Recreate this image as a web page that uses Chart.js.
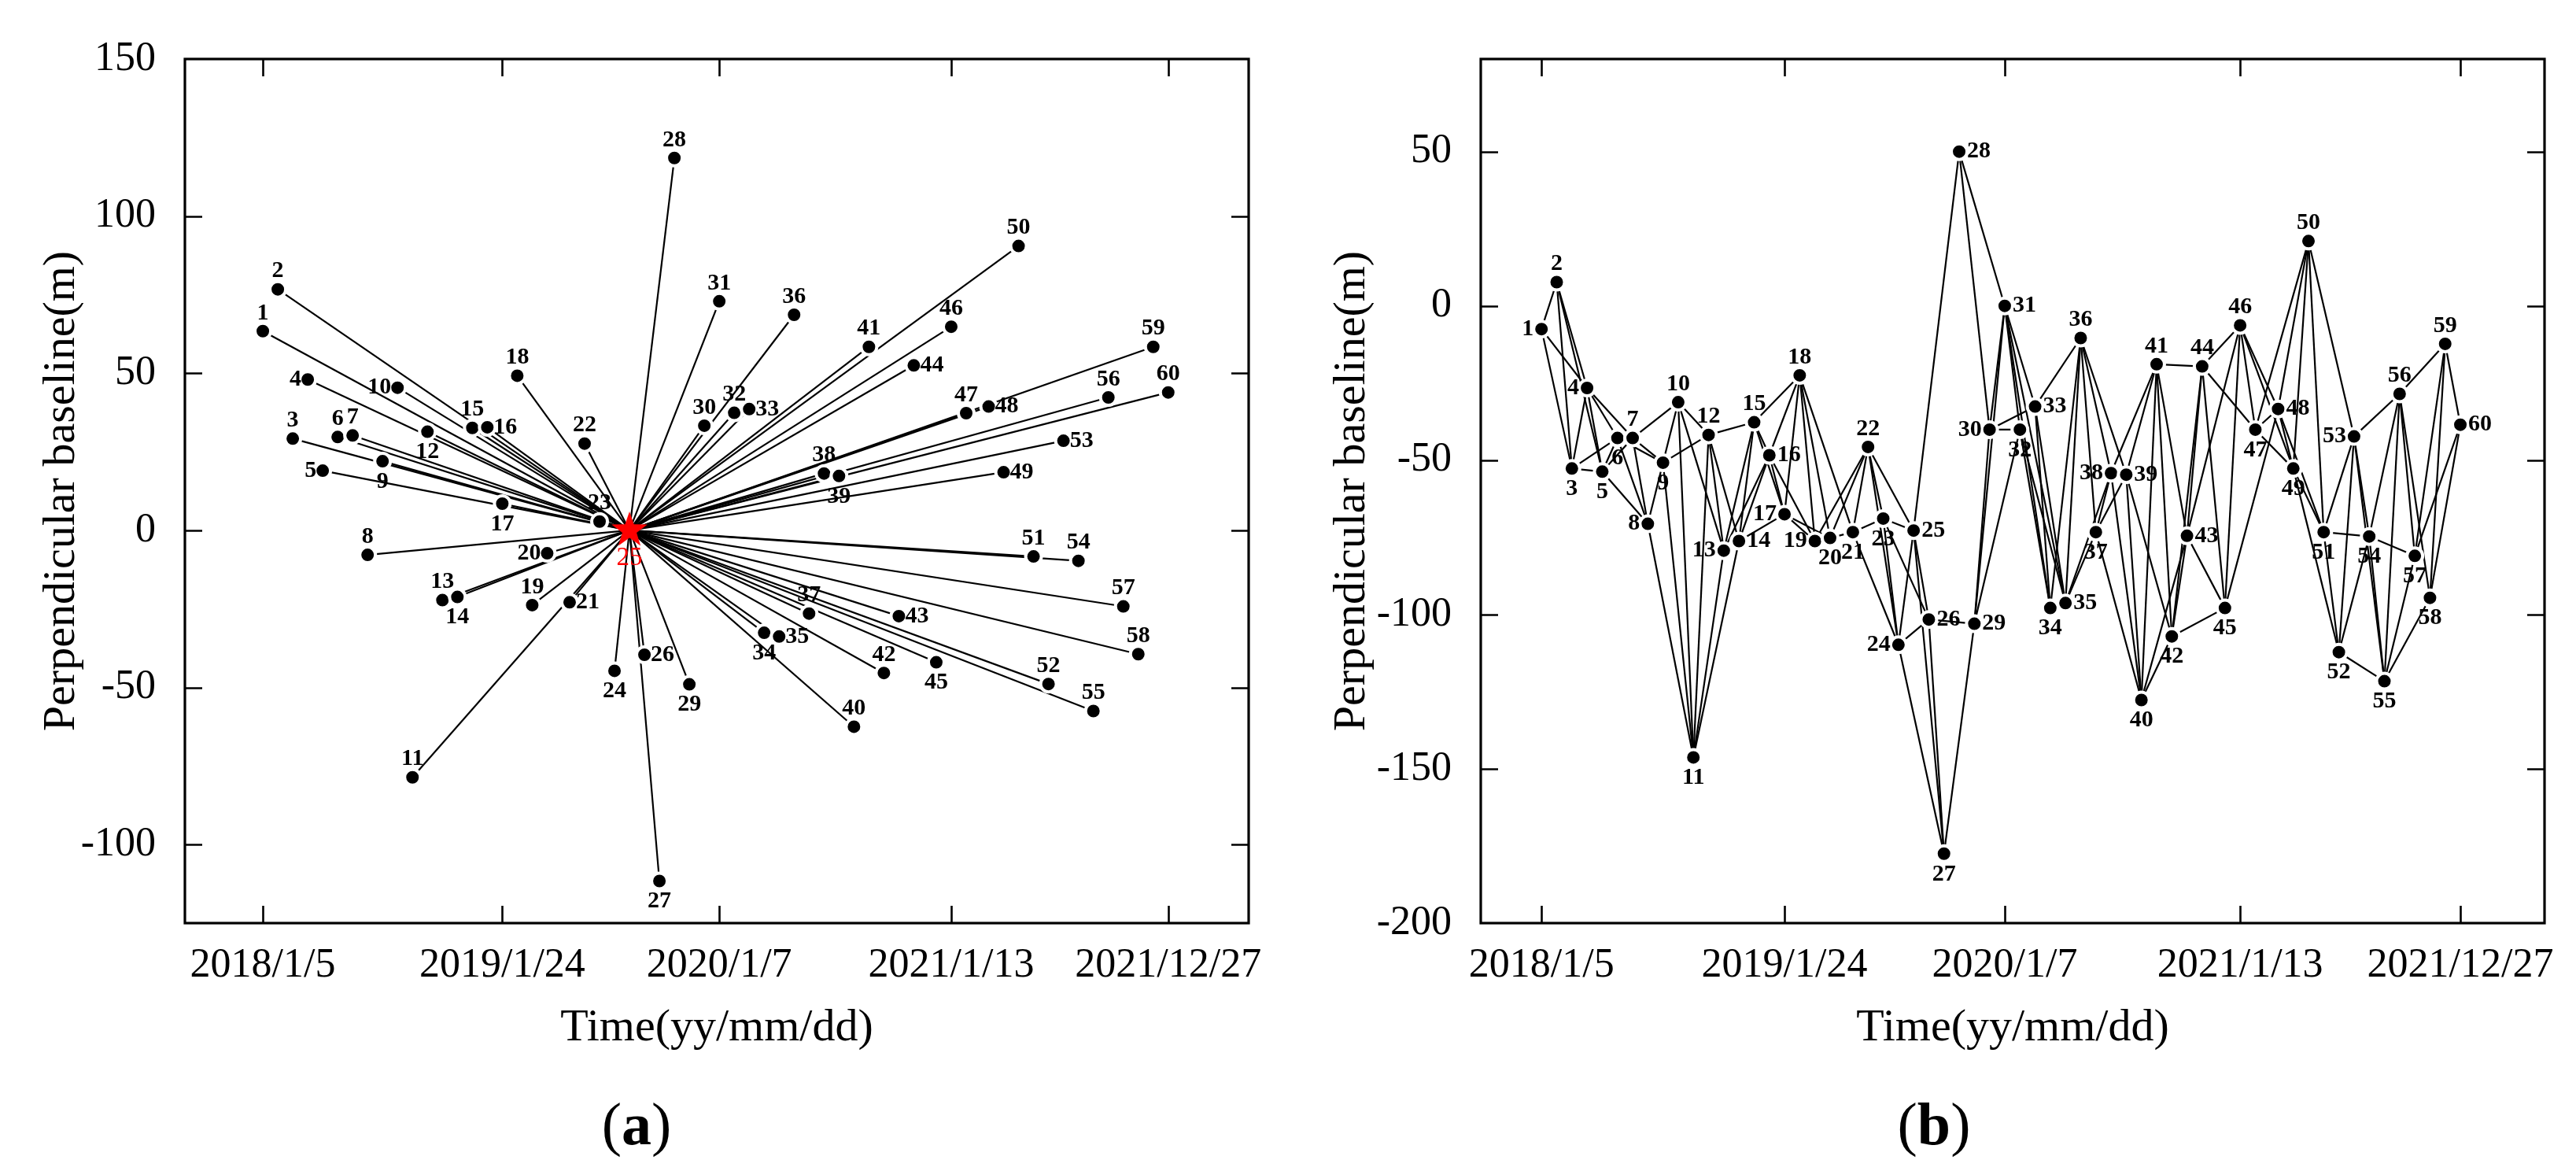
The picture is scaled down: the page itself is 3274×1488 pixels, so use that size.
<!DOCTYPE html>
<html>
<head>
<meta charset="utf-8">
<script src="https://cdn.jsdelivr.net/npm/chart.js@4.4.0/dist/chart.umd.min.js"></script>
<style>
html,body{margin:0;padding:0;background:#fff;}
body{width:3274px;height:1488px;position:relative;overflow:hidden;font-family:"Liberation Serif","Times New Roman",serif;}
#ca{position:absolute;left:0;top:0;}
#cb{position:absolute;left:1640px;top:0;}
.cap{position:absolute;top:1380px;font-size:76px;line-height:96px;transform:translateX(-50%);color:#000;white-space:nowrap;}
</style>
</head>
<body>
<canvas id="ca" width="1640" height="1488" style="width:1640px;height:1488px"></canvas>
<canvas id="cb" width="1634" height="1488" style="width:1634px;height:1488px"></canvas>
<div class="cap" style="left:809px">(<b>a</b>)</div>
<div class="cap" style="left:2458px">(<b>b</b>)</div>
<script>
// ---------------- DATA ----------------
const acquisitionDates = [
 '2018-01-05','2018-01-29','2018-02-22','2018-03-18','2018-04-11','2018-05-05','2018-05-29','2018-06-22','2018-07-16','2018-08-09',
 '2018-09-02','2018-09-26','2018-10-20','2018-11-13','2018-12-07','2018-12-31','2019-01-24','2019-02-17','2019-03-13','2019-04-06',
 '2019-05-12','2019-06-05','2019-06-29','2019-07-23','2019-08-16','2019-09-09','2019-10-03','2019-10-27','2019-11-20','2019-12-14',
 '2020-01-07','2020-01-31','2020-02-24','2020-03-19','2020-04-12','2020-05-06','2020-05-30','2020-06-23','2020-07-17','2020-08-10',
 '2020-09-03','2020-09-27','2020-10-21','2020-11-14','2020-12-20','2021-01-13','2021-02-06','2021-03-14','2021-04-07','2021-05-01',
 '2021-05-25','2021-06-18','2021-07-12','2021-08-05','2021-08-29','2021-09-22','2021-10-16','2021-11-09','2021-12-03','2021-12-27'
];
// (a) perpendicular baseline relative to master image 25 (m)
const baselineA = [
 63.4, 76.7, 29.2, 48.0, 19.0, 29.7, 30.2, -7.8, 22.0, 45.4,
 -78.6, 31.4, -22.2, -21.2, 32.6, 32.8, 8.5, 49.2, -23.8, -7.3,
 -22.9, 27.6, 2.8, -44.7, 0, -39.6, -111.6, 118.5, -49.0, 33.3,
 72.9, 37.4, 38.6, -32.6, -33.8, 68.6, -26.5, 18.1, 17.3, -62.5,
 58.4, -45.4, -27.3, 52.5, -42.0, 64.8, 37.3, 39.4, 18.5, 90.5,
 -8.3, -48.9, 28.5, -9.7, -57.5, 42.3, -24.2, -39.4, 58.4, 43.9
];
// (b) perpendicular baseline of the small-baseline network (m)
const baselineB = [
 -7.5, 7.7, -52.7, -26.6, -53.7, -42.8, -42.8, -70.6, -50.8, -31.2,
 -146.3, -41.8, -79.3, -76.2, -37.7, -48.4, -67.5, -22.5, -76.2, -75.2,
 -73.3, -45.7, -68.9, -109.8, -72.8, -101.6, -177.5, 50.0, -103.0, -40.1,
 0.0, -40.1, -32.6, -97.9, -96.3, -10.4, -73.3, -54.2, -54.7, -127.7,
 -18.9, -107.1, -74.5, -19.6, -97.9, -6.3, -40.1, -33.4, -52.7, 21.0,
 -73.3, -112.2, -42.3, -74.7, -121.6, -28.5, -81.0, -94.6, -12.3, -38.5
];
const masterImage = 25;
// interferometric pairs (image numbers) of panel (b)
const networkPairs = [
 [1,2],[1,3],[1,4],[2,3],[2,4],[2,5],[3,4],[3,5],[3,6],[4,5],[4,6],[4,7],
 [5,6],[5,7],[5,8],[6,7],[6,8],[6,9],[7,8],[7,9],[7,10],[8,9],[8,11],
 [9,10],[9,11],[9,12],[10,11],[10,12],[10,13],[11,12],[11,13],[11,14],
 [12,13],[12,14],[12,15],[13,15],[13,16],[14,15],[14,16],[14,17],
 [15,16],[15,17],[15,18],[16,17],[16,18],[16,19],[17,18],[17,19],[17,20],
 [18,19],[18,20],[18,21],[19,20],[19,22],[20,21],[20,22],
 [21,22],[21,23],[21,24],[22,23],[22,24],[22,25],[23,24],[23,25],[23,26],
 [24,25],[24,26],[24,27],[25,26],[25,27],[25,28],[26,27],[26,29],[27,29],
 [28,30],[28,31],[29,30],[29,31],[29,32],[30,31],[30,32],[30,33],
 [31,32],[31,33],[31,34],[31,35],[32,34],[32,35],[33,34],[33,35],[33,36],
 [34,36],[35,36],[35,37],[35,38],[36,37],[36,38],[36,39],
 [37,38],[37,39],[37,40],[38,39],[38,40],[38,41],[39,40],[39,41],[39,42],
 [40,41],[40,42],[40,43],[41,42],[41,43],[41,44],[42,43],[42,44],[42,45],
 [43,44],[43,45],[43,46],[44,45],[44,46],[44,47],[45,46],[45,48],
 [46,47],[46,48],[46,49],[47,48],[47,49],[47,50],[48,49],[48,50],[48,51],
 [49,50],[49,51],[49,52],[50,51],[50,53],[51,52],[51,53],[51,54],
 [52,53],[52,54],[52,55],[53,54],[53,55],[53,56],[54,55],[54,56],[54,57],
 [55,56],[55,57],[55,58],[56,57],[56,58],[56,59],[57,59],[57,60],
 [58,59],[58,60],[59,60]
];
const timeTickDates = ['2018-01-05','2019-01-24','2020-01-07','2021-01-13','2021-12-27'];
const timeTickLabels = ['2018/1/5','2019/1/24','2020/1/7','2021/1/13','2021/12/27'];
const yTicksA = [-100,-50,0,50,100,150];
const yTicksB = [-200,-150,-100,-50,0,50];

// ---------------- STYLE (label placement: t/b/l/r) ----------------
const labelSideA = ('t t t l l t t t b l ' + 't b t b t r b t t l ' + 'r t t b b r b t b t ' +
  't t r b r t t t b t ' + 't t r r b t t r r t ' + 't t r t t t t t t t').trim().split(/\s+/);
const labelSideB = ('l t b l b b t l b t ' + 'b t l r t r l t l b ' + 'b t b l r r b r r l ' +
  'r b r b r t b l r b ' + 't b r t b t b r b t ' + 'b b l b b t b b t r').trim().split(/\s+/);

const SERIF = '"Liberation Serif","Times New Roman",serif';
const day0 = Date.parse(acquisitionDates[0] + 'T00:00:00Z');
const toDay = s => Math.round((Date.parse(s + 'T00:00:00Z') - day0) / 86400000);
const days = acquisitionDates.map(toDay);
const tickDays = timeTickDates.map(toDay);
const mIdx = masterImage - 1;

// red star marker
function makeStar(R, r) {
  const c = document.createElement('canvas');
  const s = Math.ceil(R * 2 + 4);
  c.width = s; c.height = s;
  const g = c.getContext('2d');
  g.fillStyle = '#ff0000';
  g.beginPath();
  for (let k = 0; k < 10; k++) {
    const ang = -Math.PI / 2 + k * Math.PI / 5;
    const rr = (k % 2 === 0) ? R : r;
    const px = s / 2 + rr * Math.cos(ang), py = s / 2 + rr * Math.sin(ang);
    if (k === 0) g.moveTo(px, py); else g.lineTo(px, py);
  }
  g.closePath(); g.fill();
  return c;
}
const starImg = makeStar(24, 9.5);

// ---------------- PLUGINS ----------------
const framePlugin = {
  id: 'frame',
  afterDraw(chart) {
    const {ctx, chartArea: a, scales: {x, y}} = chart;
    const L = 22;
    ctx.save();
    ctx.strokeStyle = '#000';
    ctx.lineWidth = 2.6;
    ctx.beginPath();
    x.ticks.forEach(t => {
      const px = Math.round(x.getPixelForValue(t.value)) + 0.5;
      ctx.moveTo(px, a.bottom); ctx.lineTo(px, a.bottom - L);
      ctx.moveTo(px, a.top); ctx.lineTo(px, a.top + L);
    });
    y.ticks.forEach(t => {
      const py = Math.round(y.getPixelForValue(t.value)) + 0.5;
      if (py < a.top + 2 || py > a.bottom - 2) return;
      ctx.moveTo(a.left, py); ctx.lineTo(a.left + L, py);
      ctx.moveTo(a.right, py); ctx.lineTo(a.right - L, py);
    });
    ctx.stroke();
    ctx.lineWidth = 3.2;
    ctx.strokeRect(a.left, a.top, a.right - a.left, a.bottom - a.top);
    ctx.restore();
  }
};

const labelPlugin = {
  id: 'ptLabels',
  afterDatasetsDraw(chart, args, o) {
    if (!o || !o.ys) return;
    const {ctx, scales: {x, y}} = chart;
    ctx.save();
    days.forEach((d, i) => {
      const px = x.getPixelForValue(d), py = y.getPixelForValue(o.ys[i]);
      const side = o.sides[i];
      const isM = (o.master === i);
      ctx.font = isM ? o.masterFont : o.font;
      ctx.fillStyle = isM ? '#ff0000' : '#000';
      let tx = px, ty = py;
      if (isM) { ctx.textAlign = 'center'; ctx.textBaseline = 'middle'; ty = py + o.masterOff; }
      else if (side === 't') { ctx.textAlign = 'center'; ctx.textBaseline = 'middle'; ty = py - o.up; }
      else if (side === 'b') { ctx.textAlign = 'center'; ctx.textBaseline = 'middle'; ty = py + o.down; }
      else if (side === 'l') { ctx.textAlign = 'right'; ctx.textBaseline = 'middle'; tx = px - o.side; }
      else { ctx.textAlign = 'left'; ctx.textBaseline = 'middle'; tx = px + o.side; }
      ctx.fillText(String(i + 1), tx, ty);
    });
    ctx.restore();
  }
};

function tickLabel(v) {
  const k = tickDays.findIndex(t => Math.abs(t - v) < 0.5);
  return k >= 0 ? timeTickLabels[k] : '';
}

function makeOptions(cfg) {
  return {
    responsive: false,
    animation: false,
    events: [],
    devicePixelRatio: 1,
    layout: {padding: {top: 75, right: cfg.padRight, bottom: 146, left: 0}},
    plugins: {
      legend: {display: false},
      tooltip: {enabled: false},
      ptLabels: cfg.labels
    },
    scales: {
      x: {
        type: 'linear', min: cfg.xMin, max: cfg.xMax,
        grid: {display: false}, border: {display: false},
        afterBuildTicks: s => { s.ticks = tickDays.map(v => ({value: v})); },
        afterFit: s => { s.height = 169; },
        ticks: {autoSkip: false, maxRotation: 0, minRotation: 0, padding: 15, color: '#000',
          font: {family: SERIF, size: 52}, callback: v => tickLabel(v)},
        title: {display: true, text: 'Time(yy/mm/dd)', color: '#000',
          font: {family: SERIF, size: 58}, padding: {top: 0, bottom: 0}}
      },
      y: {
        type: 'linear', min: cfg.yMin, max: cfg.yMax,
        grid: {display: false}, border: {display: false},
        afterBuildTicks: s => { s.ticks = cfg.yTicks.map(v => ({value: v})); },
        afterFit: s => { s.width = cfg.yWidth; },
        ticks: {autoSkip: false, padding: 29, color: '#000',
          font: {family: SERIF, size: 52}, callback: v => String(v)},
        title: {display: true, text: 'Perpendicular baseline(m)', color: '#000',
          font: {family: SERIF, size: 58}, padding: {top: 44, bottom: 0}}
      }
    }
  };
}

const LINE_W = 2.2;
function pointDataset(ys, star) {
  return {
    type: 'scatter',
    data: days.map((d, i) => ({x: d, y: ys[i]})),
    order: 0,
    pointStyle: star ? (c => c.dataIndex === mIdx ? starImg : 'circle') : 'circle',
    pointRadius: 10,
    pointBackgroundColor: '#000',
    pointBorderColor: '#fff',
    pointBorderWidth: 4,
    showLine: false
  };
}
function segDataset(i, j, ys) {
  return {
    type: 'scatter',
    data: [{x: days[i], y: ys[i]}, {x: days[j], y: ys[j]}],
    showLine: true, order: 2,
    borderColor: '#000', borderWidth: LINE_W,
    pointRadius: 0, fill: false
  };
}

// ---------------- CHART (a) ----------------
const dsA = [];
days.forEach((d, i) => { if (i !== mIdx) dsA.push(segDataset(mIdx, i, baselineA)); });
dsA.push(pointDataset(baselineA, true));
new Chart(document.getElementById('ca'), {
  type: 'scatter',
  data: {datasets: dsA},
  options: makeOptions({
    padRight: 53, xMin: -125, xMax: 1581, yMin: -125, yMax: 150, yTicks: yTicksA, yWidth: 235,
    labels: {ys: baselineA, sides: labelSideA, master: mIdx,
      font: 'bold 30px ' + SERIF, masterFont: '33px ' + SERIF,
      up: 23, down: 26, side: 8, masterOff: 35}
  }),
  plugins: [labelPlugin, framePlugin]
});

// ---------------- CHART (b) ----------------
const dsB = networkPairs.map(p => segDataset(p[0] - 1, p[1] - 1, baselineB));
dsB.push(pointDataset(baselineB, false));
new Chart(document.getElementById('cb'), {
  type: 'scatter',
  data: {datasets: dsB},
  options: makeOptions({
    padRight: 40, xMin: -96, xMax: 1585, yMin: -200, yMax: 80, yTicks: yTicksB, yWidth: 242,
    labels: {ys: baselineB, sides: labelSideB, master: -1,
      font: 'bold 30px ' + SERIF, masterFont: 'bold 30px ' + SERIF,
      up: 23, down: 26, side: 10, masterOff: 0}
  }),
  plugins: [labelPlugin, framePlugin]
});
</script>
</body>
</html>
